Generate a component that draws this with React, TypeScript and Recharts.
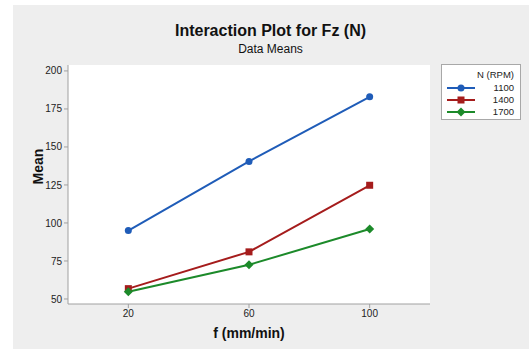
import { LineChart, Line, XAxis, YAxis, CartesianGrid, Legend } from "recharts";

const feedRates = [20, 60, 100];
const rpm1100 = [95, 140.5, 183];
const rpm1400 = [56.8, 81, 124.8];
const rpm1700 = [54.8, 72.5, 96];
const yTicks = [50, 75, 100, 125, 150, 175, 200];

const series = [
  { key: "r1100", name: "1100", color: "#1f5cb8", shape: "circle" },
  { key: "r1400", name: "1400", color: "#a51c1c", shape: "square" },
  { key: "r1700", name: "1700", color: "#1c8a2a", shape: "diamond" },
];

const data = feedRates.map((f, i) => ({
  f,
  r1100: rpm1100[i],
  r1400: rpm1400[i],
  r1700: rpm1700[i],
}));

const font = "'Liberation Sans', Arial, sans-serif";

function Marker({ cx, cy, color, shape }: any) {
  if (cx == null || cy == null) return null;
  if (shape === "square") {
    return <rect x={cx - 3.5} y={cy - 3.5} width={7} height={7} fill={color} />;
  }
  if (shape === "diamond") {
    return (
      <polygon
        points={`${cx},${cy - 4.5} ${cx + 4.5},${cy} ${cx},${cy + 4.5} ${cx - 4.5},${cy}`}
        fill={color}
      />
    );
  }
  return <circle cx={cx} cy={cy} r={3.5} fill={color} />;
}

function LegendBox() {
  return (
    <div
      style={{
        position: "absolute",
        left: 441,
        top: 64,
        width: 78,
        height: 54,
        background: "#fff",
        border: "1px solid #a8a8a8",
        fontFamily: font,
        fontSize: 9.5,
        color: "#222",
      }}
    >
      <div style={{ position: "absolute", right: 6, top: 4 }}>N (RPM)</div>
      {series.map((s, i) => (
        <div key={s.key} style={{ position: "absolute", left: 0, top: 17 + i * 12, width: 78, height: 12 }}>
          <svg width={34} height={12} style={{ position: "absolute", left: 5, top: 0 }}>
            <line x1={0} y1={6} x2={28} y2={6} stroke={s.color} strokeWidth={2} />
            <Marker cx={14} cy={6} color={s.color} shape={s.shape} />
          </svg>
          <div style={{ position: "absolute", right: 6, top: 0, lineHeight: "12px" }}>{s.name}</div>
        </div>
      ))}
    </div>
  );
}

export default function App() {
  return (
    <div style={{ position: "absolute", left: 0, top: 0, width: 529, height: 349, background: "#fff", overflow: "hidden" }}>
      <div style={{ position: "absolute", left: 13, top: 5, width: 516, height: 344, background: "#eeeeee" }} />
      <div
        style={{
          position: "absolute",
          left: 0,
          width: 529,
          top: 22,
          textAlign: "center",
          fontFamily: font,
          fontWeight: "bold",
          fontSize: 16,
          color: "#111",
          paddingLeft: 12,
          boxSizing: "border-box",
        }}
      >
        Interaction Plot for Fz (N)
      </div>
      <div
        style={{
          position: "absolute",
          left: 0,
          width: 529,
          top: 42,
          textAlign: "center",
          fontFamily: font,
          fontSize: 12,
          color: "#111",
          paddingLeft: 12,
          boxSizing: "border-box",
        }}
      >
        Data Means
      </div>
      <div style={{ position: "absolute", left: 0, top: 0 }}>
        <LineChart width={529} height={349} data={data} margin={{ top: 65, right: 99, bottom: 15, left: 18 }}>
          <CartesianGrid fill="#ffffff" horizontal={false} vertical={false} />
          <XAxis
            dataKey="f"
            type="number"
            domain={[0, 120]}
            ticks={feedRates}
            height={30}
            stroke="#a0a0a0"
            tickSize={4}
            tick={{ fill: "#222", fontSize: 10, fontFamily: font }}
            label={{ value: "f (mm/min)", position: "insideBottom", offset: -4, fill: "#111", fontSize: 14, fontWeight: "bold", fontFamily: font }}
          />
          <XAxis xAxisId="top" orientation="top" dataKey="f" type="number" domain={[0, 120]} tick={false} tickLine={false} height={0} stroke="#a0a0a0" />
          <YAxis
            type="number"
            domain={[46.7, 203.9]}
            ticks={yTicks}
            allowDataOverflow
            width={50}
            stroke="#a0a0a0"
            tickSize={4}
            tick={{ fill: "#222", fontSize: 10, fontFamily: font }}
            label={{ value: "Mean", angle: -90, position: "insideLeft", offset: 20, fill: "#111", fontSize: 14, fontWeight: "bold", fontFamily: font }}
          />
          <YAxis yAxisId="right" orientation="right" domain={[46.7, 203.9]} tick={false} tickLine={false} width={0} stroke="#a0a0a0" />
          <Legend content={() => null} />
          {series.map((s) => (
            <Line
              key={s.key}
              dataKey={s.key}
              name={s.name}
              type="linear"
              stroke={s.color}
              strokeWidth={2}
              isAnimationActive={false}
              dot={(p: any) => <Marker key={`${s.key}-${p.index}`} cx={p.cx} cy={p.cy} color={s.color} shape={s.shape} />}
              activeDot={false}
            />
          ))}
        </LineChart>
      </div>
      <LegendBox />
    </div>
  );
}
